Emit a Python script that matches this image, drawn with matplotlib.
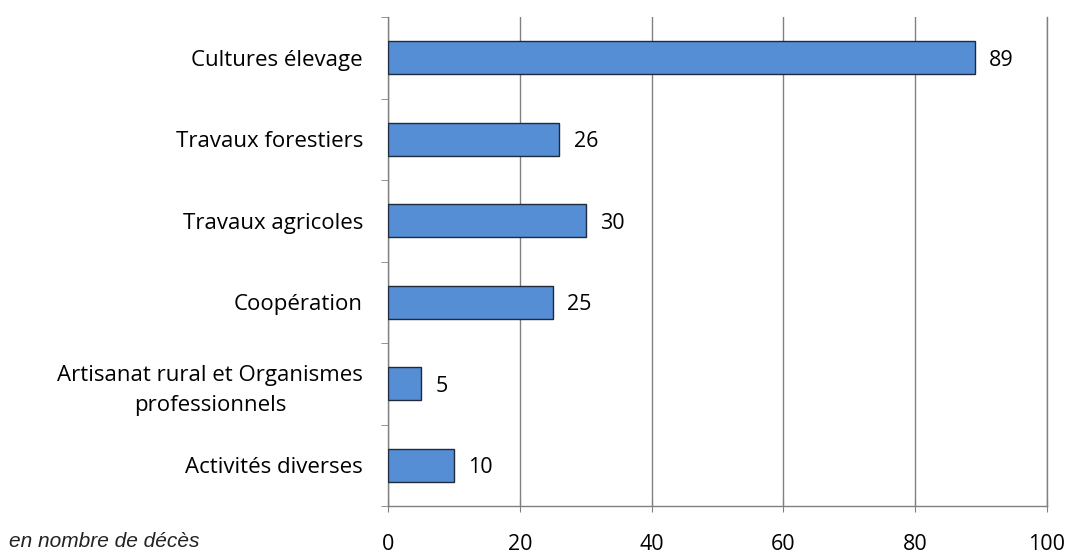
import matplotlib.pyplot as plt
import numpy as np

categories = ["Cultures élevage", "Travaux forestiers", "Travaux agricoles",
              "Coopération", "Artisanat rural et Organismes\nprofessionnels",
              "Activités diverses"]
deces = [89, 26, 30, 25, 5, 10]
xticks = [0, 20, 40, 60, 80, 100]

plt.rcParams['font.family'] = ['Open Sans', 'DejaVu Sans']

fig = plt.figure(figsize=(10.7, 5.54), dpi=100)
ax = fig.add_axes([0.3626, 0.0866, 0.6159, 0.8827])

pos = np.arange(len(categories))[::-1]
bars = ax.barh(pos, deces, height=0.4, color='#558ed5', edgecolor='#1f2a3a',
               linewidth=1.0, zorder=3)

for bar, v in zip(bars, deces):
    ax.text(bar.get_width() + 2.2, bar.get_y() + bar.get_height() / 2, str(v),
            ha='left', va='center_baseline', fontsize=15.5, color='black')

ax.set_xlim(0, 100)
ax.set_ylim(-0.5, len(categories) - 0.5)
ax.set_xticks(xticks)
ax.set_xticklabels([str(t) for t in xticks], fontsize=15.5)
ax.set_yticks(pos)
ax.set_yticklabels(categories, fontsize=16, ha='right', multialignment='center',
                   linespacing=1.55)
ax.tick_params(axis='y', length=0, pad=18)
ax.set_yticks(np.arange(-0.5, len(categories), 1.0), minor=True)
ax.tick_params(axis='y', which='minor', length=5, color='#808080', direction='out')
ax.tick_params(axis='x', length=8, color='#808080', direction='inout', pad=16)

ax.grid(axis='x', color='#808080', linewidth=1.0, zorder=0)
ax.spines['top'].set_visible(False)
for s in ['left', 'bottom', 'right']:
    ax.spines[s].set_color('#808080')
    ax.spines[s].set_linewidth(1.0)

fig.text(0.008, 0.012, "en nombre de décès", fontsize=15, style='italic',
         family='Liberation Sans', color='#222222', va='baseline')

fig.savefig('out.png', dpi=100)
